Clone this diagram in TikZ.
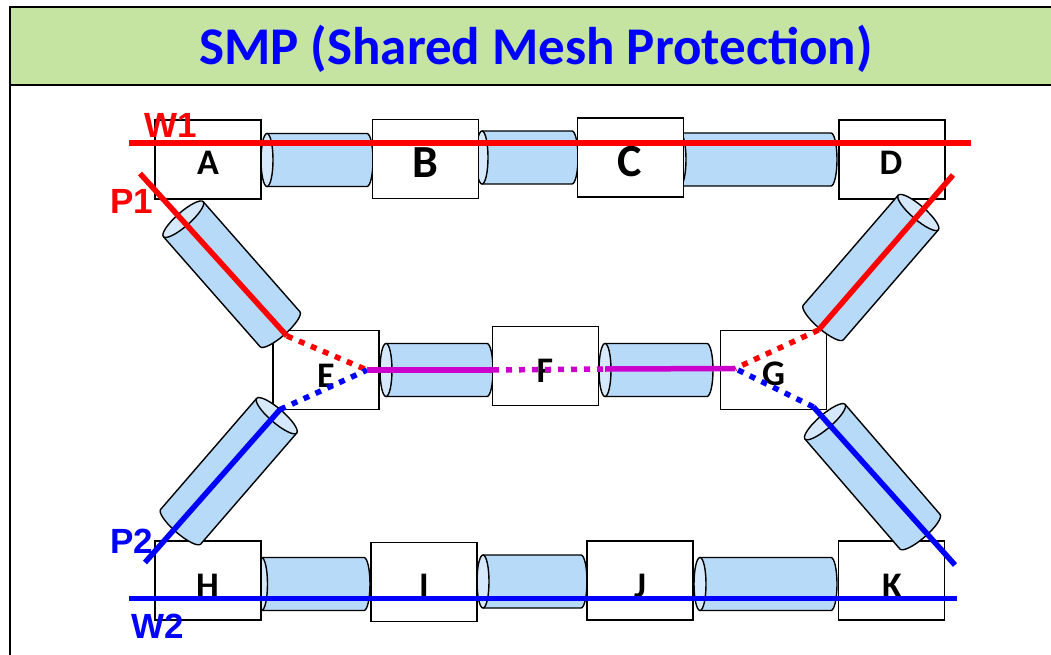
\documentclass[tikz,border=0pt]{standalone}
\usepackage{fontspec}
\newfontfamily\carlito{Carlito}
\newfontfamily\libsans{Liberation Sans}
\definecolor{banner}{RGB}{197,227,161}
\definecolor{tubebody}{RGB}{183,218,249}
\definecolor{tubecapc}{RGB}{214,233,252}
\definecolor{wred}{RGB}{255,0,0}
\definecolor{pblue}{RGB}{0,0,255}
\definecolor{shared}{RGB}{204,0,204}
\def\tubeR{26.5}
\newcommand\tube[5]{% x1,y1,x2,y2,cap x-radius (pixel coords)
  \begingroup
  \pgfmathsetmacro\tdx{(#3)-(#1)}%
  \pgfmathsetmacro\tdy{(#4)-(#2)}%
  \pgfmathsetmacro\tlen{veclen(\tdx,\tdy)}%
  \pgfmathsetmacro\tang{atan2(-\tdy,\tdx)}%
  \begin{scope}[shift={(#1,#2)},rotate=\tang]
    \fill[tubebody] (0,-\tubeR) -- (\tlen,-\tubeR) arc[start angle=-90,end angle=90,x radius=#5,y radius=\tubeR] -- (0,\tubeR) -- cycle;
    \draw[tubeedge] (0,-\tubeR) -- (\tlen,-\tubeR) arc[start angle=-90,end angle=90,x radius=#5,y radius=\tubeR] -- (0,\tubeR);
    \draw[tubeedge,fill=tubecapc] (0,0) ellipse[x radius=#5,y radius=\tubeR];
  \end{scope}
  \endgroup}
\begin{document}
\begin{tikzpicture}[x=1pt,y=-1pt,
  tubeedge/.style={draw=black,line width=1.4pt},
  box/.style={draw=black,line width=1.5pt,fill=white,minimum width=106pt,minimum height=79pt,inner sep=0pt,outer sep=0pt},
  boxlbl/.style={font=\carlito\bfseries\fontsize{36}{36}\selectfont,anchor=base,inner sep=0pt},
  biglbl/.style={font=\carlito\bfseries\fontsize{46}{46}\selectfont,anchor=base,inner sep=0pt},
  pathlbl/.style={font=\libsans\bfseries\fontsize{35}{35}\selectfont,anchor=base,inner sep=0pt},
  pathline/.style={line width=5.5pt},
  pathdot/.style={line width=5.5pt,dash pattern=on 6pt off 7pt}]
\useasboundingbox (0,0) rectangle (1051,655);
\clip (0,0) rectangle (1051,655);
% frame and title banner
\draw[line width=2pt,fill=banner] (10,7) rectangle (1062,85);
\draw[line width=2pt] (10,85) -- (10,662);
\node[font=\carlito\bfseries\fontsize{53}{53}\selectfont,text=pblue,anchor=base,inner sep=0pt] (title) at (536,65) {SMP (Shared Mesh Protection)};
% horizontal tubes
\tube{267}{160}{367}{160}{6}
\tube{482}{157.5}{572}{157.5}{6}
\tube{680}{159.5}{831}{159.5}{6}
\tube{386}{370}{487}{370}{6}
\tube{605}{370}{707}{370}{6}
\tube{261.5}{584}{364}{584}{6}
\tube{483}{581.5}{581}{581.5}{6}
\tube{700}{584}{831}{584}{6}
% boxes
\node[box] (A) at (208,159.5) {};
\node[box] (B) at (425.5,159) {};
\node[box] (C) at (630.5,157.5) {};
\node[box] (D) at (892,159.5) {};
\node[box] (E) at (326,370) {};
\node[box] (F) at (545.5,366) {};
\node[box] (G) at (773.5,370) {};
\node[box] (H) at (208,580.5) {};
\node[box] (I) at (424,582) {};
\node[box] (J) at (640,580.5) {};
\node[box] (K) at (891.5,580.5) {};
% diagonal tubes
\tube{183.3}{219.2}{280}{329.2}{7}
\tube{918.3}{212.5}{823.3}{322.5}{7}
\tube{276.7}{415.7}{180.7}{526.7}{7}
\tube{825}{421.7}{920}{531.7}{7}
% box letters
\node[boxlbl] (lA) at (208,175) {A};
\node[biglbl] (lB) at (425,178) {B};
\node[biglbl] (lC) at (630,177) {C};
\node[boxlbl] (lD) at (891,175) {D};
\node[boxlbl] (lE) at (326,387) {E};
\node[boxlbl] (lF) at (545,382) {F};
\node[boxlbl] (lG) at (773.5,385) {G};
\node[boxlbl] (lH) at (207.5,597) {H};
\node[boxlbl] (lI) at (424,597) {I};
\node[boxlbl] (lJ) at (640,597) {J};
\node[boxlbl] (lK) at (892,597) {K};
% path coordinates
\coordinate (eJ) at (367,370);
\coordinate (gJ) at (735,368.5);
\coordinate (w1s) at (129,143);
\coordinate (w1e) at (971,143);
\coordinate (p1s) at (140,173.5);
\coordinate (p1m) at (287,336);
\coordinate (p1r) at (953,175);
\coordinate (p1rm) at (818.5,330);
\coordinate (p2s) at (145,562.5);
\coordinate (p2m) at (280,409.5);
\coordinate (p2r) at (955,565);
\coordinate (p2rm) at (813.5,407);
\coordinate (mF1) at (493,370);
\coordinate (mF2) at (605,369);
\coordinate (w2s) at (129,598.5);
\coordinate (w2e) at (957,598.5);
% working and protection paths
\draw[pathline,wred] (w1s) -- (w1e);
\draw[pathline,wred] (p1s) -- (p1m);
\draw[pathdot,wred] (p1m) -- (eJ);
\draw[pathline,wred] (p1r) -- (p1rm);
\draw[pathdot,wred] (p1rm) -- (gJ);
\draw[pathline,pblue] (p2s) -- (p2m);
\draw[pathdot,pblue] (p2m) -- (eJ);
\draw[pathline,pblue] (p2r) -- (p2rm);
\draw[pathdot,pblue] (p2rm) -- (gJ);
\draw[pathline,shared] (eJ) -- (mF1);
\draw[pathdot,shared] (mF1) -- (mF2);
\draw[pathline,shared] (mF2) -- (gJ);
\draw[pathline,pblue] (w2s) -- (w2e);
% path labels
\node[pathlbl,text=wred] (W1) at (171,138) {W1};
\node[pathlbl,text=wred] (P1) at (131.5,213) {P1};
\node[pathlbl,text=pblue] (P2) at (131.5,553) {P2};
\node[pathlbl,text=pblue] (W2) at (157.5,638) {W2};
\end{tikzpicture}
\end{document}
